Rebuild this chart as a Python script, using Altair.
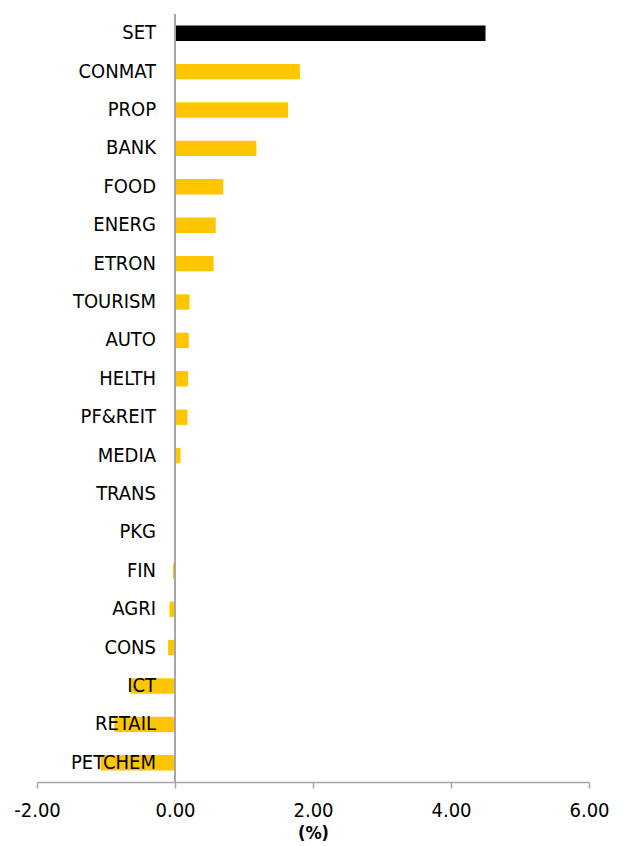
import altair as alt
import pandas as pd

sectors = ["SET", "CONMAT", "PROP", "BANK", "FOOD", "ENERG", "ETRON", "TOURISM",
           "AUTO", "HELTH", "PF&REIT", "MEDIA", "TRANS", "PKG", "FIN", "AGRI",
           "CONS", "ICT", "RETAIL", "PETCHEM"]
changes = [4.50, 1.81, 1.64, 1.18, 0.70, 0.59, 0.56, 0.21,
           0.20, 0.19, 0.18, 0.08, 0.003, -0.01, -0.03, -0.08,
           -0.10, -0.64, -0.88, -1.08]
groups = ["index"] + ["sector"] * (len(sectors) - 1)
tick_values = [-2, 0, 2, 4, 6]

df = pd.DataFrame({"sector": sectors, "change": changes, "group": groups})

FONT = "DejaVu Sans Condensed"

y_enc = alt.Y("sector:N", sort=sectors,
              scale=alt.Scale(paddingInner=0.6, paddingOuter=0.3),
              axis=None)

bars = alt.Chart(df).mark_bar().encode(
    x=alt.X("change:Q",
            scale=alt.Scale(domain=[-2, 6], nice=False, zero=False),
            axis=alt.Axis(values=tick_values, title="(%)",
                          labelExpr="datum.value < 0 ? '-' + format(-datum.value, '.2f') : format(datum.value, '.2f')",
                          labelFlush=False, labelOverlap=False,
                          grid=False, domainColor="#a6a6a6", domainWidth=1.5,
                          tickColor="#a6a6a6", tickWidth=1.5, tickSize=6,
                          labelFont=FONT, labelFontSize=20, labelColor="#000000",
                          labelPadding=12,
                          titleFont=FONT, titleFontSize=18, titleFontWeight="bold",
                          titleColor="#000000", titlePadding=4)),
    y=y_enc,
    color=alt.Color("group:N",
                    scale=alt.Scale(domain=["index", "sector"], range=["#000000", "#FFC600"]),
                    legend=None),
)

zero_line = alt.Chart(df).mark_rule(color="#a6a6a6", strokeWidth=2).encode(
    x=alt.datum(0),
)

labels = alt.Chart(df).mark_text(align="right", baseline="middle", dx=-19,
                                 font=FONT, fontSize=20, color="#000000").encode(
    x=alt.datum(0),
    y=y_enc,
    text="sector:N",
)

chart = alt.layer(bars, zero_line, labels).properties(
    width=552, height=768, background="white"
).configure_view(stroke=None, strokeWidth=0)

chart.save("out.html", embed_options={"renderer": "svg", "actions": False})
